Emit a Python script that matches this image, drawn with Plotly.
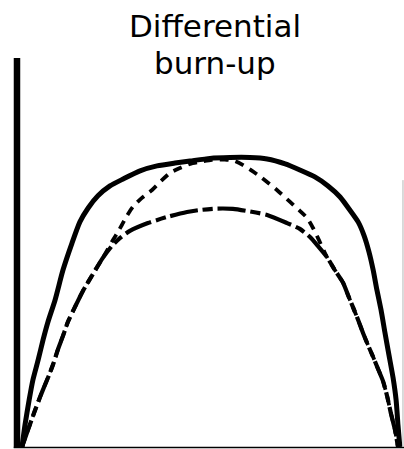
import plotly.graph_objects as go

# Position across the core (% of width) and relative differential burn-up (%)
solid_x = [0, 0.8, 1.9, 2.9, 4.3, 5.6, 6.9, 8.8, 10.9, 13.3,
           15.4, 17.6, 20.2, 23.4, 26.9, 31.4, 35.9, 40.7, 44.7, 50.0,
           55.3, 60.6, 65.2, 70.0, 73.9, 77.9, 81.4, 84.6, 87.2, 89.4,
           91.0, 92.3, 93.4, 94.4, 95.5, 96.5, 97.6, 98.7, 99.5, 100.0,
           100.5]
solid_y = [0, 7.6, 16.2, 23.1, 30.0, 36.9, 43.1, 50.7, 61.0, 70.3,
           77.6, 82.4, 86.6, 90.0, 92.4, 95.2, 96.9, 97.9, 98.6, 99.5,
           99.8, 99.8, 99.3, 97.6, 95.5, 93.1, 90.0, 86.2, 81.7, 77.6,
           72.8, 67.2, 61.0, 54.1, 47.2, 39.7, 31.7, 23.8, 16.2, 7.6,
           0]

dashed_x = [0, 1.6, 3.2, 4.8, 6.1, 7.2, 8.5, 9.6, 10.9, 12.2,
            14.1, 16.2, 18.9, 21.5, 24.2, 25.5, 26.6, 27.9, 29.5, 31.9,
            34.6, 37.0, 39.4, 42.0, 44.7, 47.3, 50.5, 54.0, 56.6, 58.8,
            61.2, 63.8, 67.8, 71.3, 73.9, 75.8, 77.4, 78.7, 79.8, 81.1,
            83.2, 85.4, 86.7, 88.0, 89.4, 90.7, 92.0, 93.4, 94.7, 96.0,
            97.1, 98.1, 99.2, 100]
dashed_y = [0, 5.9, 11.7, 17.2, 21.4, 24.8, 29.3, 33.8, 38.3, 43.1,
            48.3, 53.8, 59.7, 65.2, 71.4, 74.1, 76.6, 79.7, 82.8, 85.9,
            88.6, 91.7, 94.5, 96.2, 97.6, 98.3, 99.0, 99.1, 98.6, 97.2,
            95.2, 92.8, 88.6, 84.5, 81.4, 79.0, 75.5, 72.1, 69.0, 65.5,
            61.0, 56.6, 52.4, 48.3, 43.8, 39.3, 35.2, 31.0, 26.9, 22.8,
            17.6, 11.7, 5.9, 0]

lower_x = [0, 1.6, 3.2, 4.8, 6.1, 7.2, 8.5, 9.6, 10.9, 12.2,
           14.1, 16.2, 18.9, 21.5, 23.9, 26.1, 28.7, 33.5, 38.6, 43.9,
           47.3, 51.9, 56.1, 60.6, 65.2, 70.5, 73.9, 76.6, 78.7, 81.1,
           83.2, 85.4, 86.7, 88.0, 89.4, 90.7, 92.0, 93.4, 94.7, 96.0,
           97.1, 98.1, 99.2, 100]
lower_y = [0, 5.9, 11.7, 17.2, 21.4, 24.8, 29.3, 33.8, 38.3, 43.1,
           48.3, 53.8, 59.7, 65.2, 69.3, 72.1, 74.5, 77.2, 79.3, 81.0,
           81.7, 82.2, 82.1, 81.2, 80.0, 77.2, 75.2, 72.4, 69.3, 65.5,
           61.0, 56.6, 52.4, 48.3, 43.8, 39.3, 35.2, 31.0, 26.9, 22.8,
           17.6, 11.7, 5.9, 0]

title_lines = ["Differential", "burn-up"]

W, H = 404, 449
X_RANGE = [-5.85, 101.6]
Y_RANGE = [-0.69, 154.1]

fig = go.Figure()

fig.add_trace(go.Scatter(x=lower_x, y=lower_y, mode="lines",
                         line=dict(color="black", width=4.2, shape="spline",
                                   smoothing=0.6, dash="28px,5px,10px,5px"),
                         hoverinfo="skip"))
fig.add_trace(go.Scatter(x=dashed_x, y=dashed_y, mode="lines",
                         line=dict(color="black", width=3.8, shape="spline",
                                   smoothing=0.6, dash="9px,7px"),
                         hoverinfo="skip"))
fig.add_trace(go.Scatter(x=solid_x, y=solid_y, mode="lines",
                         line=dict(color="black", width=5, shape="spline",
                                   smoothing=0.6),
                         hoverinfo="skip"))

# Heavy vertical axis on the left, thin baseline and faint right edge
fig.add_shape(type="line", x0=-1.33, x1=-1.33, y0=-0.3, y1=134.1,
              line=dict(color="black", width=6.5))
fig.add_shape(type="line", x0=-2.2, x1=X_RANGE[1], y0=-0.15, y1=-0.15,
              line=dict(color="black", width=1.6))
fig.add_shape(type="line", x0=101.33, x1=101.33, y0=0, y1=92,
              line=dict(color="#b5b5b5", width=1))

fig.add_annotation(text=title_lines[0], xref="paper", yref="paper",
                   x=215 / W, y=1 - 26 / H, xanchor="center", yanchor="middle",
                   showarrow=False,
                   font=dict(family="DejaVu Sans", size=31, color="black"))
fig.add_annotation(text=title_lines[1], xref="paper", yref="paper",
                   x=215 / W, y=1 - 63 / H, xanchor="center", yanchor="middle",
                   showarrow=False,
                   font=dict(family="DejaVu Sans", size=31, color="black"))

fig.update_layout(
    width=W, height=H,
    margin=dict(l=0, r=0, t=0, b=0),
    paper_bgcolor="white", plot_bgcolor="white",
    showlegend=False,
    xaxis=dict(range=X_RANGE, visible=False, fixedrange=True),
    yaxis=dict(range=Y_RANGE, visible=False, fixedrange=True),
)

fig.write_html("out.html")
